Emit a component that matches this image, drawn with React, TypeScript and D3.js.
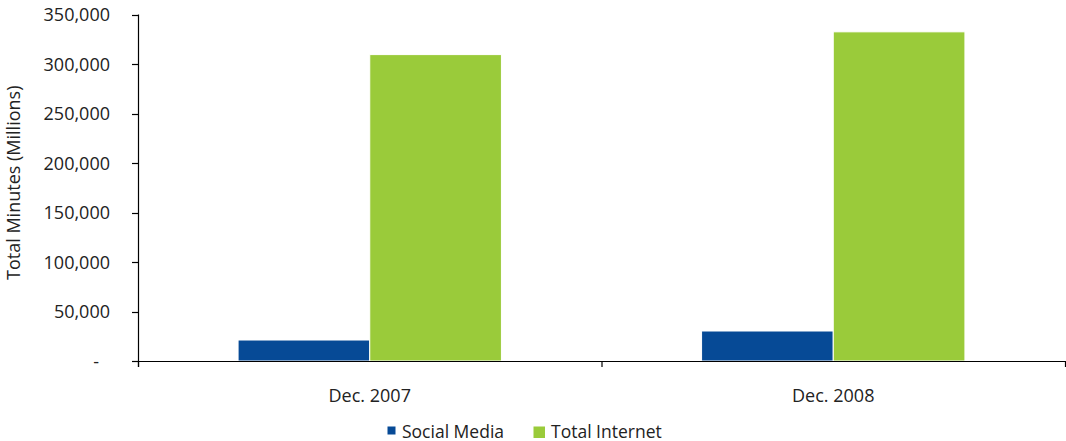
import React from "react";
import * as d3 from "d3";

const categories = ["Dec. 2007", "Dec. 2008"];
const seriesNames = ["Social Media", "Total Internet"];
const socialMedia = [21200, 30300];
const totalInternet = [309500, 332500];
const yTickValues = [0, 50000, 100000, 150000, 200000, 250000, 300000, 350000];
const yTickLabels = ["-", "50,000", "100,000", "150,000", "200,000", "250,000", "300,000", "350,000"];
const yAxisTitle = "Total Minutes (Millions)";

const colors = ["#064A96", "#9ACB3A"];
const W = 1066;
const H = 441;
const FONT = "'Open Sans', 'Noto Sans', sans-serif";

export default function App() {
  const left = 138;
  const right = 1065;
  const top = 14.5;
  const bottom = 361;
  const y = d3.scaleLinear().domain([0, 350000]).range([bottom, top]);
  const x0 = d3.scaleBand<string>().domain(categories).range([left, right]).padding(0);
  const x1 = d3
    .scaleBand<string>()
    .domain(seriesNames)
    .range([0, x0.bandwidth()])
    .paddingInner(0)
    .paddingOuter(0.76);
  const values = [socialMedia, totalInternet];
  const boundaries = [left, ...categories.map((c) => (x0(c) as number) + x0.bandwidth())];

  return (
    <svg
      width={W}
      height={H}
      style={{ position: "absolute", left: 0, top: 0, background: "#fff" }}
      fontFamily={FONT}
    >
      {categories.map((c, ci) =>
        seriesNames.map((s, si) => {
          const bx = (x0(c) as number) + (x1(s) as number);
          const v = values[si][ci];
          return (
            <rect
              key={c + s}
              x={bx}
              y={y(v)}
              width={x1.bandwidth()}
              height={bottom - y(v)}
              fill={colors[si]}
              stroke="#fff"
              strokeWidth={1}
            />
          );
        })
      )}
      <line x1={left + 0.5} x2={left + 0.5} y1={top} y2={bottom + 6} stroke="#000" strokeWidth={1.2} />
      {yTickValues.map((v, i) => (
        <g key={v}>
          <line x1={left - 6} x2={left} y1={Math.round(y(v)) + 0.5} y2={Math.round(y(v)) + 0.5} stroke="#000" strokeWidth={1.2} />
          <text
            x={yTickLabels[i] === "-" ? 99 : 110}
            y={y(v) + 6.5}
            textAnchor="end"
            fontSize={18}
            fill="#222"
          >
            {yTickLabels[i]}
          </text>
        </g>
      ))}
      <line x1={left - 6} x2={right + 0.5} y1={bottom + 0.5} y2={bottom + 0.5} stroke="#000" strokeWidth={1.2} />
      {boundaries.map((bx, i) => (
        <line key={i} x1={bx + 0.5} x2={bx + 0.5} y1={bottom} y2={bottom + 6} stroke="#000" strokeWidth={1.2} />
      ))}
      {categories.map((c) => (
        <text
          key={c}
          x={(x0(c) as number) + x0.bandwidth() / 2}
          y={401.5}
          textAnchor="middle"
          fontSize={18}
          fill="#222"
        >
          {c}
        </text>
      ))}
      <text
        transform={`translate(19.5, ${(top + bottom) / 2 - 5}) rotate(-90)`}
        textAnchor="middle"
        fontSize={18}
        fill="#222"
      >
        {yAxisTitle}
      </text>
      <rect x={387.5} y={426.5} width={8} height={8} fill={colors[0]} />
      <text x={402} y={437.5} fontSize={17.5} fill="#222">
        {seriesNames[0]}
      </text>
      <rect x={533.5} y={426.5} width={11.5} height={11.5} fill={colors[1]} />
      <text x={551} y={437.5} fontSize={17.5} fill="#222">
        {seriesNames[1]}
      </text>
    </svg>
  );
}
